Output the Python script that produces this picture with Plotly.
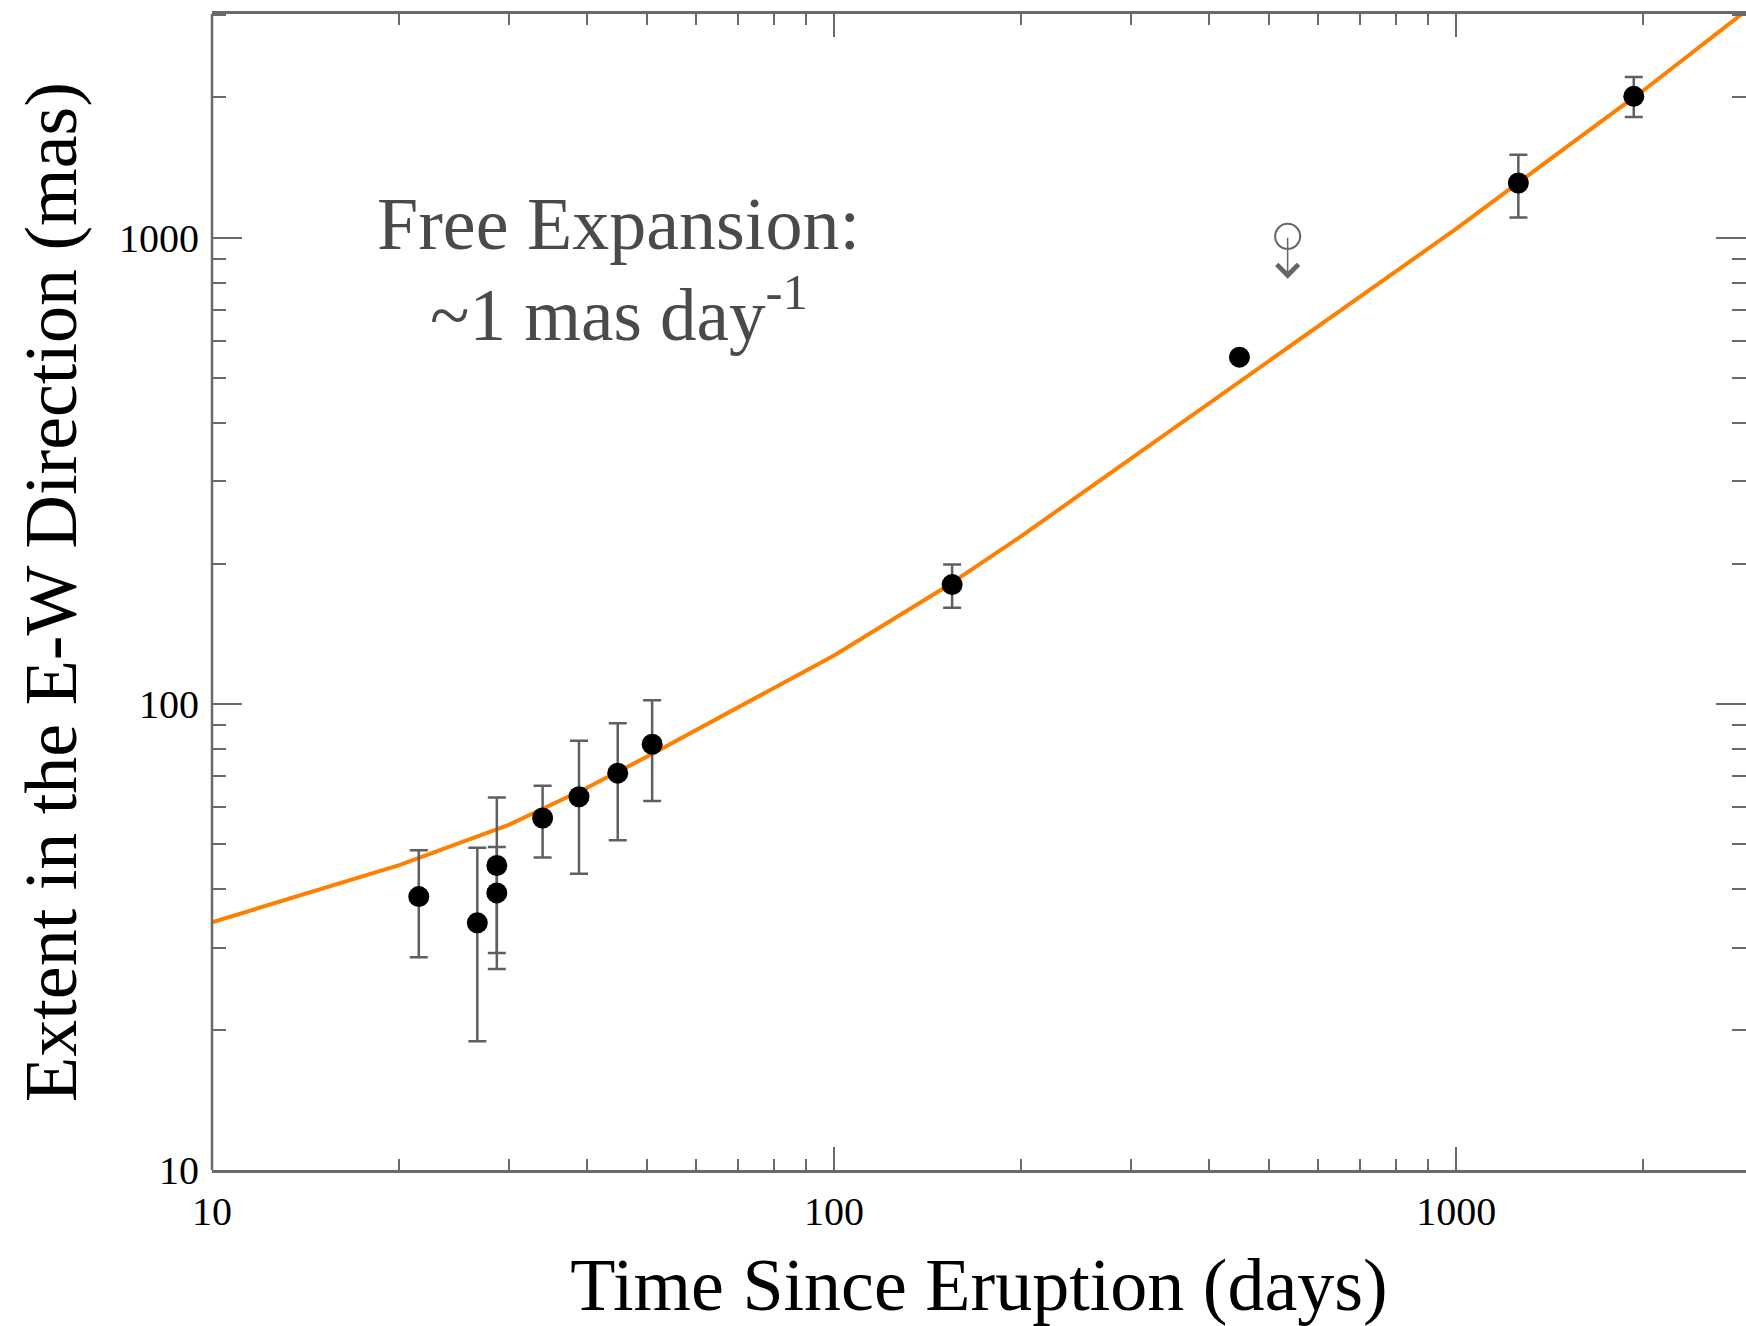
import numpy as np
import plotly.graph_objects as go

# Measured E-W extent of the ejecta versus time since eruption
days = [21.5, 26.7, 28.7, 28.7, 34.0, 38.9, 44.9, 51.0, 154.8, 448.4, 1259, 1930]
extent = [38.6, 33.9, 45.0, 39.3, 56.9, 63.2, 71.0, 81.9, 180.3, 554.3, 1310.6, 2011]
extent_hi = [48.5, 49.1, 63.0, 49.3, 66.7, 83.3, 90.9, 101.8, 199.0, None, 1507, 2213]
extent_lo = [28.6, 18.9, 29.2, 27.0, 46.8, 43.2, 51.0, 61.9, 160.7, None, 1105, 1816]

# Upper limit and the end of its downward arrow
limit_day = [536]
limit_extent = [1007]
limit_arrow_to = [817]

# Free-expansion model curve
model_day = [10, 20, 30, 40, 50, 70, 100, 150, 200, 300, 500, 700, 1000, 1500, 2000, 3000]
model_extent = [34.0, 45.1, 55, 66, 77, 98, 127, 177, 229, 336, 545, 750, 1045, 1560, 2070, 3150]

major_ticks = [10, 100, 1000]
major_labels = ["10", "100", "1000"]
minor_x = [20, 30, 40, 50, 60, 70, 80, 90, 200, 300, 400, 500, 600, 700, 800, 900, 2000]
minor_y = [20, 30, 40, 50, 60, 70, 80, 90, 200, 300, 400, 500, 600, 700, 800, 900, 2000, 3000]

err_plus = [(h - v) if h is not None else 0 for h, v in zip(extent_hi, extent)]
err_minus = [(v - l) if l is not None else 0 for l, v in zip(extent_lo, extent)]

FONT = "Liberation Serif"
AXIS_GRAY = "#6a6a6a"

fig = go.Figure()

fig.add_trace(go.Scatter(
    x=model_day, y=model_extent, mode="lines",
    line=dict(color="#ff8000", width=4),
    hoverinfo="skip", showlegend=False,
))

fig.add_trace(go.Scatter(
    x=days, y=extent, mode="markers",
    marker=dict(color="black", size=21, line=dict(width=0)),
    error_y=dict(type="data", symmetric=False, array=err_plus, arrayminus=err_minus,
                 color="#5f5f5f", thickness=2.5, width=9),
    showlegend=False,
))

# downward arrow marking the upper limit (log axes take log10 positions)
fig.add_annotation(
    x=np.log10(limit_day[0]), y=np.log10(limit_arrow_to[0]), xref="x", yref="y",
    ax=np.log10(limit_day[0]), ay=np.log10(limit_extent[0]), axref="x", ayref="y",
    showarrow=True, arrowhead=4, arrowsize=2.8,
    arrowwidth=1.5, arrowcolor="#666666", standoff=0, startstandoff=0, text="",
)

fig.add_trace(go.Scatter(
    x=limit_day, y=limit_extent, mode="markers",
    marker=dict(symbol="circle-open", color="#666666", size=25, line=dict(width=2)),
    showlegend=False,
))

fig.add_annotation(
    x=0.2653, y=0.818, xref="paper", yref="paper", showarrow=False,
    text="Free Expansion:", font=dict(family=FONT, size=74, color="#4a4a4a"),
    xanchor="center", yanchor="middle",
)
fig.add_annotation(
    x=0.2653, y=0.744, xref="paper", yref="paper", showarrow=False,
    text="~1 mas day<sup>-1</sup>", font=dict(family=FONT, size=73, color="#4a4a4a"),
    xanchor="center", yanchor="middle",
)

# frame line on the left (right side carries ticks only)
fig.add_shape(type="line", xref="paper", yref="paper", x0=0, x1=0, y0=0, y1=1,
              line=dict(color=AXIS_GRAY, width=2.5))

fig.update_xaxes(
    type="log", range=[1, np.log10(2924)],
    tickmode="array", tickvals=major_ticks, ticktext=major_labels,
    ticks="inside", ticklen=23, tickwidth=2, tickcolor=AXIS_GRAY,
    minor=dict(tickmode="array", tickvals=minor_x, ticks="inside", ticklen=11,
               tickwidth=2, tickcolor=AXIS_GRAY, showgrid=False),
    showline=True, linecolor=AXIS_GRAY, linewidth=2.5, mirror="ticks",
    showgrid=False, zeroline=False,
    tickfont=dict(family=FONT, size=40, color="black"),
    ticklabelstandoff=4,
    title=dict(text="Time Since Eruption (days)", font=dict(family=FONT, size=74, color="black"),
               standoff=26),
)
fig.update_yaxes(
    type="log", range=[1, np.log10(3020)],
    tickmode="array", tickvals=major_ticks, ticktext=major_labels,
    ticks="inside", ticklen=30, tickwidth=2, tickcolor=AXIS_GRAY,
    minor=dict(tickmode="array", tickvals=minor_y, ticks="inside", ticklen=14,
               tickwidth=2, tickcolor=AXIS_GRAY, showgrid=False),
    showline=False, mirror="ticks",
    showgrid=False, zeroline=False,
    tickfont=dict(family=FONT, size=40, color="black"),
    ticklabelstandoff=12,
    title=dict(text="Extent in the E-W Direction (mas)", font=dict(family=FONT, size=74, color="black"),
               standoff=18),
)

fig.update_layout(
    width=1746, height=1326,
    margin=dict(l=212, r=0, t=14, b=156, autoexpand=False),
    plot_bgcolor="white", paper_bgcolor="white",
    showlegend=False,
)

fig.write_html("out.html")
